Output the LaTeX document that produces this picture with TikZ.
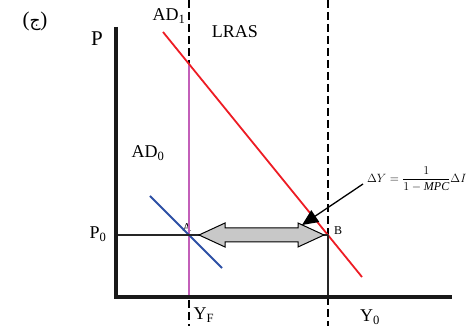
\documentclass[tikz,border=0pt]{standalone}
\usepackage{amsmath}
\usepackage{fontspec}
\setmainfont{Liberation Serif}
\newfontfamily\arabicfont[Script=Arabic]{DejaVu Sans}
\TeXXeTstate=1
\usetikzlibrary{positioning,arrows.meta,calc}

\definecolor{adred}{RGB}{237,28,36}
\definecolor{adblue}{RGB}{45,80,165}
\definecolor{fline}{RGB}{195,95,185}
\definecolor{arrgray}{RGB}{200,200,200}

\begin{document}
\begin{tikzpicture}[
    x=1pt, y=-1pt,
    lbl/.style={font=\fontsize{18}{21}\selectfont, inner sep=0pt},
    big/.style={font=\fontsize{21}{24}\selectfont, inner sep=0pt},
    small/.style={font=\fontsize{12}{14}\selectfont, inner sep=0pt},
    axisline/.style={line width=4pt, black!90},
    guide/.style={dash pattern=on 8pt off 4pt, line width=1.2pt},
    curve/.style={line width=1.8pt, draw=#1},
    level/.style={line width=1.5pt, black!85},
    pointer/.style={-{Triangle[length=16pt,width=14pt]}, line width=1.3pt},
]
\useasboundingbox (0,0) rectangle (472,326);

% points
\coordinate (O) at (116,297);
\coordinate (ptop) at (116,27);
\coordinate (xend) at (452,297);
\coordinate (A) at (189,235);
\coordinate (B) at (328,235);
\coordinate (yfcut) at (189,64);
\coordinate (ad1a) at (163,32);
\coordinate (ad1b) at (362,277);
\coordinate (ad0a) at (150,196);
\coordinate (ad0b) at (222,268);
\coordinate (tip) at (302,225);

% labels
\node[big] (jim) at (35,21) {({\arabicfont\fontsize{17}{20}\selectfont\beginR ج\endR})};
\node[big] (plab) at (97,39) {P};
\node[lbl] (ad1) at (169,16) {AD\textsubscript{1}};
\node[lbl] (lras) at (235,32) {LRAS};
\node[lbl] (ad0) at (148,153) {AD\textsubscript{0}};
\node[lbl] (p0) at (98,234) {P\textsubscript{0}};
\node[small] (alab) at (187,228) {A};
\node[small] (blab) at (338,231) {B};
\node[lbl] (yf) at (204,315) {Y\textsubscript{F}};
\node[lbl] (y0) at (370,317) {Y\textsubscript{0}};
\node[small, anchor=west] (mult) at (367,179) {$\Delta Y=\dfrac{1}{1-\mathit{MPC}}\Delta I$};

% long run and full employment lines
\draw[guide] (A |- 0,0) -- (A |- 0,326);
\draw[guide] (B |- 0,0) -- (B);
\draw[guide, line width=2.4pt] (B |- O) -- (B |- 0,326);
\draw[line width=2pt, fline] (yfcut) -- (A |- O);

% demand curves
\draw[curve=adred] (ad1a) -- (ad1b);
\draw[curve=adblue] (ad0a) -- (ad0b);

% price level and output
\draw[level] (O |- A) -- (B);
\draw[level] (B) -- (B |- O);

% axes
\draw[axisline] (ptop) |- (xend);

% gap arrow
\filldraw[fill=arrgray, draw=black, line width=1pt]
  ($(A)+(10,0)$) -- ($(A)+(36,-12)$) -- ($(A)+(36,-7)$) -- ($(B)+(-30,-7)$)
  -- ($(B)+(-30,-12)$) -- ($(B)+(-4,0)$) -- ($(B)+(-30,12)$) -- ($(B)+(-30,7)$)
  -- ($(A)+(36,7)$) -- ($(A)+(36,12)$) -- cycle;

\draw[pointer] ($(mult.west)+(-4,5)$) -- (tip);
\end{tikzpicture}
\end{document}
